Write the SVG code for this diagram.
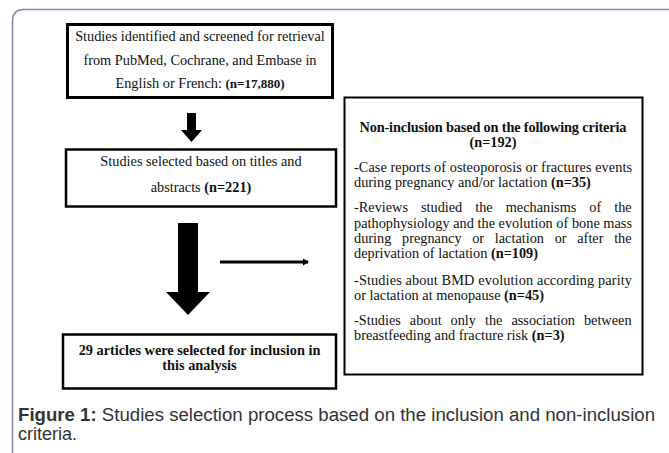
<svg xmlns="http://www.w3.org/2000/svg" width="669" height="453" viewBox="0 0 669 453">
<defs>
<style>
.box{fill:#fff;stroke:#000;}
.t{font-family:"Liberation Serif","Times New Roman",serif;font-size:14.3px;fill:#111;}
.c{text-anchor:middle;}
.b{font-weight:bold;}
.cap{font-family:"Liberation Sans",Arial,sans-serif;font-size:18px;fill:#333;}
</style>
<marker id="ah" markerWidth="8" markerHeight="8" refX="5" refY="4" orient="auto" markerUnits="userSpaceOnUse">
<path d="M0,0.5 L6,4 L0,7.5 z" fill="#000"/>
</marker>
</defs>
<rect x="0" y="0" width="669" height="453" fill="#fff"/>
<path d="M12.5,470 L12.5,21 Q12.5,9.5 24,9.5 L680,9.5" fill="none" stroke="#8585b8" stroke-width="1.5"/>

<g id="n1">
<rect class="box" x="67.5" y="24.5" width="265" height="73" stroke-width="3"/>
<text class="t c" x="200" y="41">Studies identified and screened for retrieval</text>
<text class="t c" x="200" y="65">from PubMed, Cochrane, and Embase in</text>
<text class="t c" x="200" y="88">English or French: <tspan class="b" font-size="13">(n=17,880)</tspan></text>
</g>

<g id="n2">
<rect class="box" x="66" y="149.5" width="270" height="57" stroke-width="2.5"/>
<text class="t c" x="201" y="166">Studies selected based on titles and</text>
<text class="t c" x="201" y="192">abstracts <tspan class="b">(n=221)</tspan></text>
</g>

<g id="n3">
<rect class="box" x="63" y="334.5" width="273" height="54" stroke-width="2.5"/>
<text class="t c b" x="199.5" y="355">29 articles were selected for inclusion in</text>
<text class="t c b" x="199.5" y="370">this analysis</text>
</g>

<g id="n4">
<rect class="box" x="344.5" y="97.5" width="298" height="277" stroke-width="2"/>
<text class="t c b" x="493" y="132" font-size="13.5" textLength="267" lengthAdjust="spacing">Non-inclusion based on the following criteria</text>
<text class="t c b" x="493" y="147" font-size="13.5">(n=192)</text>
<text class="t" x="354" y="172" textLength="278" lengthAdjust="spacing">-Case reports of osteoporosis or fractures events</text>
<text class="t" x="354" y="187">during pregnancy and/or lactation <tspan class="b">(n=35)</tspan></text>
<text class="t" x="354" y="212" word-spacing="9.4">-Reviews studied the mechanisms of the</text>
<text class="t" x="354" y="228" textLength="278" lengthAdjust="spacing">pathophysiology and the evolution of bone mass</text>
<text class="t" x="354" y="243" word-spacing="7.1">during pregnancy or lactation or after the</text>
<text class="t" x="354" y="258">deprivation of lactation <tspan class="b">(n=109)</tspan></text>
<text class="t" x="354" y="285" textLength="278" lengthAdjust="spacing">-Studies about BMD evolution according parity</text>
<text class="t" x="354" y="300">or lactation at menopause <tspan class="b">(n=45)</tspan></text>
<text class="t" x="354" y="325" font-size="13" word-spacing="5.4">-Studies about only the association between</text>
<text class="t" x="354" y="340" font-size="13">breastfeeding and fracture risk <tspan class="b">(n=3)</tspan></text>
</g>

<g id="connectors">
<path d="M187,113 H196 V130 H202 L191.5,142 L181,130 H187 Z" fill="#000"/>
<path d="M178,223 H198 V292 H210 L188,315 L166,292 H178 Z" fill="#000"/>
<line x1="220" y1="262" x2="308" y2="262" stroke="#000" stroke-width="3" marker-end="url(#ah)"/>
</g>

<g id="caption">
<text class="cap" x="18" y="421" textLength="637" lengthAdjust="spacingAndGlyphs"><tspan font-weight="bold">Figure 1:</tspan> Studies selection process based on the inclusion and non-inclusion</text>
<text class="cap" x="18" y="440" textLength="59" lengthAdjust="spacingAndGlyphs">criteria.</text>
</g>
</svg>
